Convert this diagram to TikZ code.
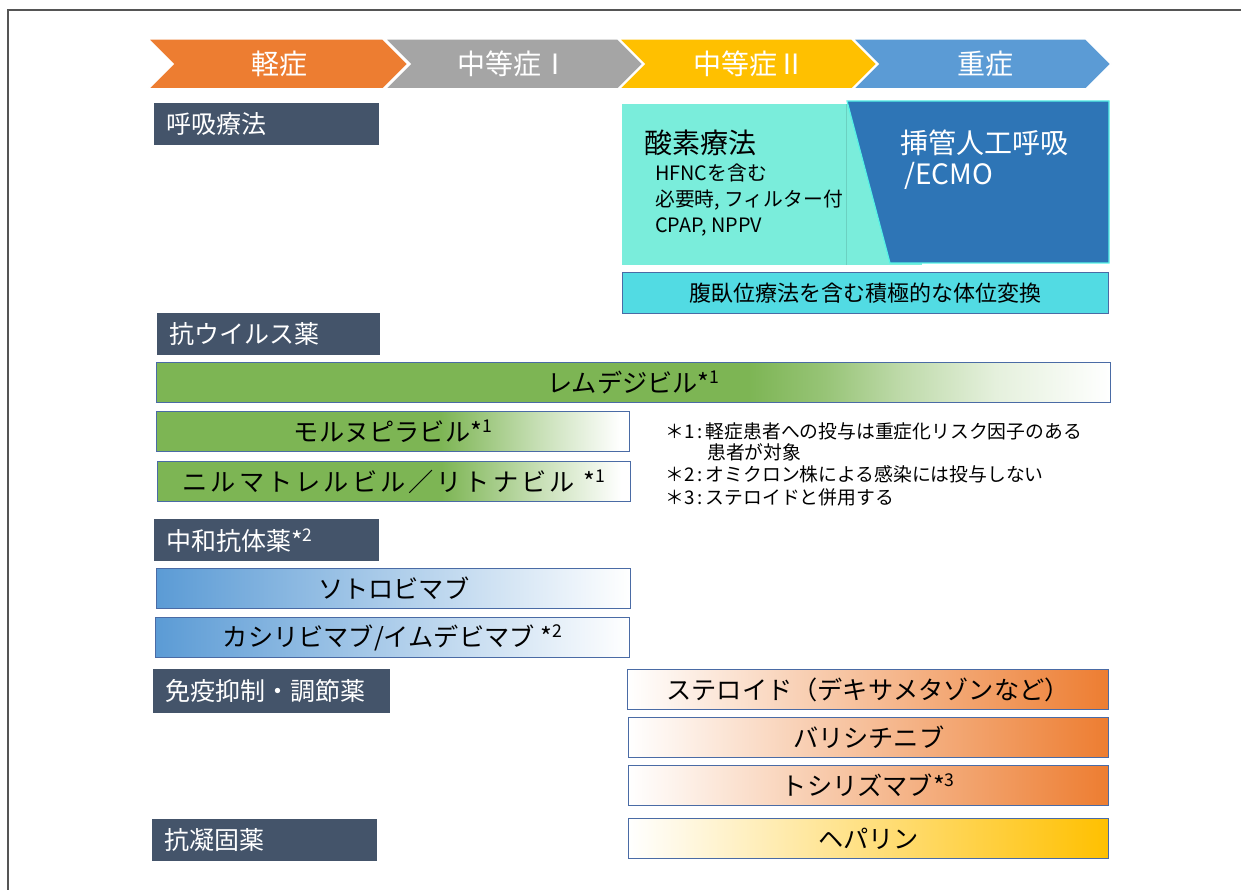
\documentclass[tikz,border=0pt]{standalone}
\usepackage{fontspec}
\setmainfont{Noto Sans CJK JP}
\definecolor{orC}{HTML}{ED7D31}
\definecolor{grC}{HTML}{A5A5A5}
\definecolor{yeC}{HTML}{FFC000}
\definecolor{blC}{HTML}{5B9BD5}
\definecolor{hdrC}{HTML}{44546A}
\definecolor{aqC}{HTML}{7AEDDB}
\definecolor{dbC}{HTML}{2E75B6}
\definecolor{cyC}{HTML}{52DBE3}
\definecolor{gnC}{HTML}{7DB554}
\definecolor{bdC}{HTML}{4A6BA5}
\definecolor{frC}{HTML}{555555}
\pgfdeclarehorizontalshading{remdshade}{100bp}{color(0bp)=(gnC); color(56bp)=(gnC); color(60bp)=(gnC!80!white); color(64bp)=(gnC!50!white); color(69bp)=(gnC!20!white); color(75bp)=(white); color(100bp)=(white)}
\pgfdeclarehorizontalshading{molshade}{100bp}{color(0bp)=(gnC); color(55bp)=(gnC); color(65bp)=(gnC!45!white); color(74bp)=(white); color(100bp)=(white)}
\tikzset{
  chevtxt/.style={text=white, font=\fontsize{28}{32}\selectfont, inner sep=0pt},
  hdr/.style={fill=hdrC, text=white, font=\fontsize{25}{28}\selectfont, anchor=north west, inner xsep=12pt, inner ysep=0pt, minimum height=42pt, align=left},
  bar/.style={draw=bdC, line width=1.2pt, anchor=north west, minimum height=40pt, inner sep=0pt, font=\fontsize{25.2}{29}\selectfont},
  greenbar/.style={bar, shade, shading=molshade},
  bluebar/.style={bar, left color=blC, right color=white},
  orbar/.style={bar, left color=white, right color=orC},
  yebar/.style={bar, left color=white, right color=yeC},
  fn/.style={anchor=west, inner sep=0pt, font=\fontsize{18.8}{22}\selectfont},
  lefttxt/.style={anchor=west, inner sep=0pt},
}
\begin{document}
\begin{tikzpicture}[x=1pt, y=-1pt]
\useasboundingbox (0,0) rectangle (1241,890);
% frame
\draw[frC, line width=1.3pt] (8,890) -- (8,10) -- (1241,10);
% chevrons
\fill[orC, draw=white, line width=1.5pt] (148,39) -- (383,39) -- (408,64) -- (383,89) -- (148,89) -- (173,64) -- cycle;
\fill[grC, draw=white, line width=1.5pt] (385,39) -- (618,39) -- (643,64) -- (618,89) -- (385,89) -- (410,64) -- cycle;
\fill[yeC, draw=white, line width=1.5pt] (619,39) -- (852,39) -- (877,64) -- (852,89) -- (619,89) -- (644,64) -- cycle;
\fill[blC, draw=white, line width=1.5pt] (853,39) -- (1086,39) -- (1111,64) -- (1086,89) -- (853,89) -- (878,64) -- cycle;
\node[chevtxt] (c1) at (279,64) {軽症};
\node[chevtxt] (c2) at (513,64) {中等症Ⅰ};
\node[chevtxt] (c3) at (749,64) {中等症Ⅱ};
\node[chevtxt] (c4) at (985,64) {重症};
% respiratory
\node[hdr, text width=201pt] (h1) at (154,103) {呼吸療法};
\fill[aqC] (622,104) rectangle (922,265);
\draw[aqC!80!black!60!aqC, line width=0.5pt] (846,104) -- (846,265);
\filldraw[fill=dbC, draw=aqC!70!cyan, line width=1.2pt] (847,101) -- (1109,101) -- (1109,263) -- (890,263) -- cycle;
\node[lefttxt, font=\fontsize{28}{31}\selectfont] (oxy) at (644,143) {酸素療法};
\node[lefttxt, font=\fontsize{19.8}{22}\selectfont] (oxy1) at (655,173) {HFNCを含む};
\node[lefttxt, font=\fontsize{19.8}{22}\selectfont] (oxy2) at (655,200) {必要時, フィルター付};
\node[lefttxt, font=\fontsize{19.8}{22}\selectfont] (oxy3) at (655,227) {CPAP, NPPV};
\node[lefttxt, text=white, font=\fontsize{28}{31}\selectfont] (intub) at (900,143) {挿管人工呼吸};
\node[lefttxt, text=white, font=\fontsize{28}{31}\selectfont] (ecmo) at (904,176) {/ECMO};
\node[draw=bdC, fill=cyC, line width=1.2pt, minimum width=486pt, minimum height=41pt, anchor=north west, inner sep=0pt, font=\fontsize{22}{25}\selectfont] (prone) at (622,272) {腹臥位療法を含む積極的な体位変換};
% antiviral
\node[hdr, text width=199pt] (h2) at (157,313) {抗ウイルス薬};
\node[bar, shade, shading=remdshade, minimum width=954pt] (remd) at (156,362) {レムデジビル*\textsuperscript{1}};
\node[greenbar, minimum width=473pt] (moln) at (156,411) {モルヌピラビル*\textsuperscript{1}};
\node[greenbar, minimum width=473pt] (nirm) at (157,461) {\addfontfeature{LetterSpace=12}ニルマトレルビル／リトナビル *\textsuperscript{1}};
% footnotes
\node[fn] (f1) at (665,431) {＊1\,:\,軽症患者への投与は重症化リスク因子のある};
\node[fn] (f1b) at (707,452) {患者が対象};
\node[fn] (f2) at (665,474) {＊2\,:\,オミクロン株による感染には投与しない};
\node[fn] (f3) at (665,497) {＊3\,:\,ステロイドと併用する};
% antibodies
\node[hdr, text width=201pt] (h3) at (154,519) {中和抗体薬*\textsuperscript{2}};
\node[bluebar, minimum width=474pt] (soto) at (156,568) {ソトロビマブ};
\node[bluebar, minimum width=474pt] (casi) at (155,617) {カシリビマブ/イムデビマブ *\textsuperscript{2}};
% immune
\node[hdr, text width=213pt, minimum height=44pt] (h4) at (153,669) {免疫抑制・調節薬};
\node[orbar, minimum width=481pt] (ster) at (627,669) {ステロイド（デキサメタゾンなど）};
\node[orbar, minimum width=480pt] (bari) at (628,717) {バリシチニブ};
\node[orbar, minimum width=480pt] (toci) at (628,765) {トシリズマブ*\textsuperscript{3}};
% anticoagulant
\node[hdr, text width=201pt] (h5) at (152,819) {抗凝固薬};
\node[yebar, minimum width=480pt] (hep) at (628,818) {ヘパリン};
\end{tikzpicture}
\end{document}
